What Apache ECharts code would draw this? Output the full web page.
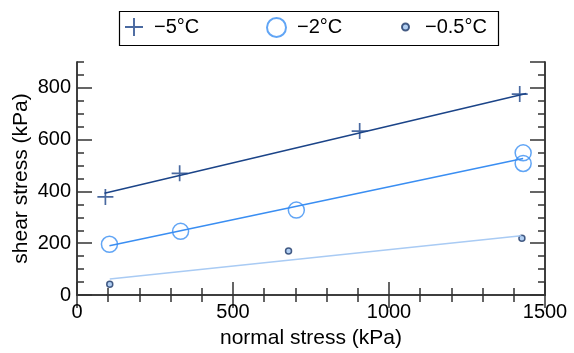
<!DOCTYPE html>
<html>
<head>
    <meta charset="utf-8"/>
    <script src="https://cdn.jsdelivr.net/npm/echarts@6/dist/echarts.min.js"></script>
</head>
<body style="margin:0">
<div id="main" style="width: 574px;height:353px;"></div>
<script type="text/javascript">
    // data
    var names = ['−5°C', '−2°C', '−0.5°C'];
    var x5 = [91, 329, 906, 1419];
    var y5 = [379, 470, 633, 776];
    var x2 = [104, 332, 703, 1430, 1430];
    var y2 = [196, 246, 328, 549, 508];
    var x05 = [105, 678, 1426];
    var y05 = [42, 170, 219];
    // fitted lines (end points)
    var fit5X = [88, 1440], fit5Y = [393, 778];
    var fit2X = [104, 1430], fit2Y = [190, 527];
    var fit05X = [105, 1424], fit05Y = [62, 229];

    var navy = '#1b4488', blue = '#3a8ef2', light = '#a9cbf4';
    var font = 'Liberation Sans, Arial, sans-serif';

    function pairs(xs, ys) {
        return xs.map(function (x, i) { return [x, ys[i]]; });
    }

    var myChart = echarts.init(document.getElementById('main'));

    var crossPath = 'path://M0,7.15H16V8.85H0Z M7.15,0H8.85V16H7.15Z';
    var axisLine = {lineStyle: {color: '#333', width: 1.5}};
    var noLabel = {show: false};
    var plain = function (v) { return String(v); };

    function yAx(pos, interval, len, labels) {
        return {
            type: 'value', position: pos, min: 0, max: 900, interval: interval,
            axisLine: axisLine,
            axisTick: {inside: true, length: len, lineStyle: {color: '#333', width: 1.5}},
            axisLabel: labels ? {fontSize: 20, color: '#000', fontFamily: font, margin: 6,
                showMaxLabel: false, formatter: plain} : noLabel,
            splitLine: {show: false},
            name: labels ? 'shear stress (kPa)' : '',
            nameLocation: 'middle', nameGap: 45, nameMoveOverlap: false,
            nameTextStyle: {fontSize: 21, color: '#000', fontFamily: font}
        };
    }
    function xAx(pos, labels) {
        return {
            type: 'value', position: pos, min: 0, max: 1500, interval: 500,
            axisLine: axisLine,
            axisTick: {inside: true, length: 13, lineStyle: {color: '#333', width: 1.5}},
            minorTick: {show: true, splitNumber: 5, length: 7, lineStyle: {color: '#333', width: 1.5}},
            axisLabel: labels ? {fontSize: 20, color: '#000', fontFamily: font, margin: 7,
                formatter: plain} : noLabel,
            splitLine: {show: false},
            name: labels ? 'normal stress (kPa)' : '',
            nameLocation: 'middle', nameGap: 33, nameMoveOverlap: false,
            nameTextStyle: {fontSize: 21, color: '#000', fontFamily: font}
        };
    }

    function legend(name, left, size, pad) {
        return {
            data: [name], left: left, top: 17, padding: 0,
            itemWidth: size, itemHeight: size, selectedMode: false,
            textStyle: {fontSize: 20, color: '#000', fontFamily: font, padding: [0, 0, 0, pad]}
        };
    }

    option = {
        animation: false,
        grid: {left: 77, right: 29, top: 62, bottom: 58, outerBoundsMode: 'none'},
        legend: [
            legend(names[0], 125, 18, 6),
            legend(names[1], 266, 19, 6),
            legend(names[2], 401, 7, 11)
        ],
        graphic: [{
            type: 'rect', left: 117, top: 9,
            shape: {width: 379, height: 34},
            style: {fill: 'none', stroke: '#000', lineWidth: 1.2}
        }],
        xAxis: [xAx('bottom', true), xAx('top', false)],
        yAxis: [yAx('left', 200, 15, true), yAx('left', 50, 7, false),
                yAx('right', 200, 15, false), yAx('right', 50, 7, false)],
        series: [
            {name: 'fit5', type: 'line', data: pairs(fit5X, fit5Y), symbol: 'none', silent: true,
                lineStyle: {color: navy, width: 1.5}},
            {name: 'fit2', type: 'line', data: pairs(fit2X, fit2Y), symbol: 'none', silent: true,
                lineStyle: {color: blue, width: 1.5}},
            {name: 'fit05', type: 'line', data: pairs(fit05X, fit05Y), symbol: 'none', silent: true,
                lineStyle: {color: light, width: 1.5}},
            {name: names[0], type: 'scatter', data: pairs(x5, y5), symbol: crossPath, symbolSize: 16,
                itemStyle: {color: navy}},
            {name: names[1], type: 'scatter', data: pairs(x2, y2), symbol: 'circle', symbolSize: 16,
                itemStyle: {color: 'transparent', borderColor: blue, borderWidth: 1.5}},
            {name: names[2], type: 'scatter', data: pairs(x05, y05), symbol: 'circle', symbolSize: 6,
                itemStyle: {color: '#9fc3ef', borderColor: '#1d3766', borderWidth: 1.5}}
        ]
    };

    myChart.setOption(option);
</script>
</body>
</html>
